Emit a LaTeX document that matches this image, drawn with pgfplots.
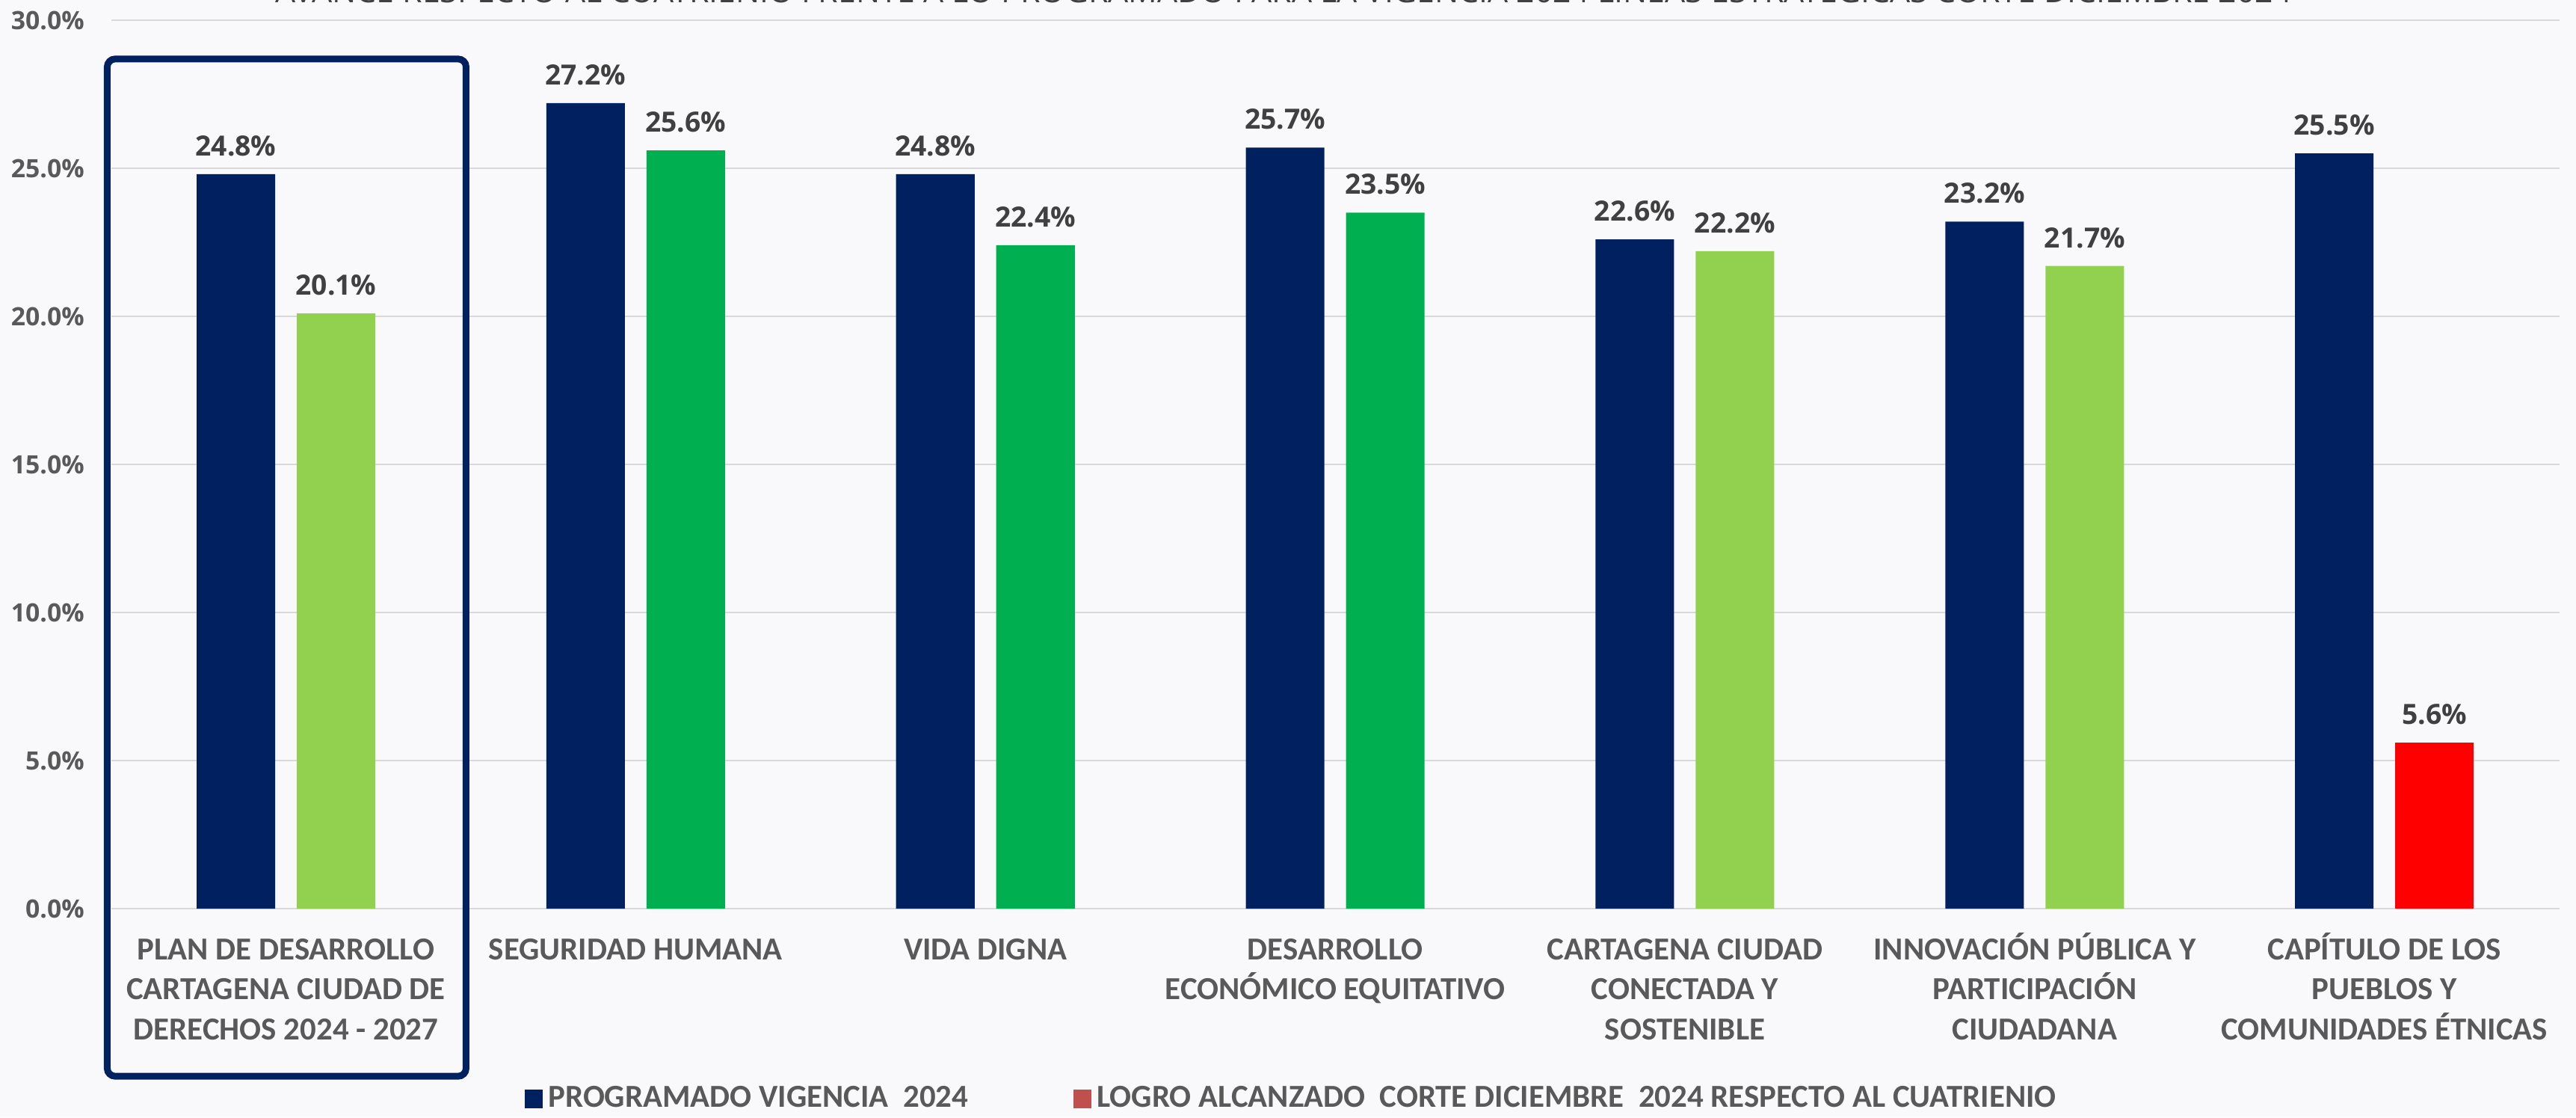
\documentclass[border=0pt]{standalone}
\usepackage{graphicx}
\usepackage{pgfplots}
\pgfplotsset{compat=1.18}
\usepackage{fontspec}
\setmainfont{Open Sans}
\newfontfamily\calibri{Carlito}

\definecolor{navy}{RGB}{0,32,96}
\definecolor{lightgreen}{RGB}{146,208,80}
\definecolor{midgreen}{RGB}{0,176,80}
\definecolor{brightred}{RGB}{255,0,0}
\definecolor{legendred}{RGB}{192,80,77}
\definecolor{gridgray}{RGB}{217,217,217}
\definecolor{textgray}{RGB}{89,89,89}
\definecolor{labelgray}{RGB}{64,64,64}
\definecolor{bgcol}{RGB}{249,249,252}

\pgfplotsset{/pgf/number format/assume math mode=true}

\begin{document}
\begin{tikzpicture}
\fill[bgcol] (0,0) rectangle (34.46,14.94);
\node[anchor=base, text=labelgray, inner sep=0pt] at (17.17,14.90)
  {\resizebox{26.97cm}{!}{\fontsize{12}{14}\selectfont AVANCE RESPECTO AL CUATRIENIO FRENTE A LO PROGRAMADO PARA LA VIGENCIA 2024 LÍNEAS ESTRATÉGICAS CORTE DICIEMBRE 2024}};

\begin{axis}[
  at={(1.486cm,2.79cm)}, anchor=south west,
  scale only axis,
  width=32.75cm, height=11.88cm,
  xmin=-0.5, xmax=6.5,
  ymin=0, ymax=30,
  clip=false,
  axis line style={draw=none},
  major tick length=0pt,
  tick style={draw=none},
  ymajorgrids,
  grid style={draw=gridgray, line width=0.6pt},
  ytick={0,5,10,15,20,25,30},
  yticklabel={\pgfmathprintnumber[fixed,fixed zerofill,precision=1]{\tick}\%},
  yticklabel style={anchor=east, inner sep=0pt, xshift=-10pt, text=textgray,
    font=\bfseries\fontsize{9.6}{11}\selectfont},
  xtick={0,1,2,3,4,5,6},
  xticklabels={
    {\rule{0pt}{10.5pt}PLAN DE DESARROLLO\\CARTAGENA CIUDAD DE\\DERECHOS 2024 - 2027},
    {\rule{0pt}{10.5pt}SEGURIDAD HUMANA},
    {\rule{0pt}{10.5pt}VIDA DIGNA},
    {\rule{0pt}{10.5pt}DESARROLLO\\ECONÓMICO EQUITATIVO},
    {\rule{0pt}{10.5pt}CARTAGENA CIUDAD\\CONECTADA Y\\SOSTENIBLE},
    {\rule{0pt}{10.5pt}INNOVACIÓN PÚBLICA Y\\PARTICIPACIÓN\\CIUDADANA},
    {\rule{0pt}{10.5pt}CAPÍTULO DE LOS\\PUEBLOS Y\\COMUNIDADES ÉTNICAS}},
  xticklabel style={anchor=north, align=center, inner sep=0pt, yshift=-8.8pt,
    text=textgray, font=\calibri\bfseries\fontsize{12.2}{15.2}\selectfont},
  every node near coord/.append style={anchor=base, yshift=7pt, inner sep=0pt,
    text=labelgray, font=\bfseries\fontsize{10.6}{12}\selectfont},
  legend columns=2,
  legend style={at={(0.1687,-0.2141)}, anchor=west, draw=none, fill=none,
    inner sep=0pt, text=textgray,
    font=\calibri\bfseries\fontsize{12.2}{14}\selectfont,
    /tikz/every even column/.append style={column sep=38pt}},
  legend cell align=left,
]

% programado vigencia 2024
\addplot[ybar, bar width=0.2245, bar shift=-0.1432, fill=navy, draw=none, forget plot,
  every node near coord/.append style={xshift=-0.67cm},
  nodes near coords={\pgfmathprintnumber[fixed,fixed zerofill,precision=1]{\pgfplotspointmeta}\%}]
  coordinates {(0,24.8) (1,27.2) (2,24.8) (3,25.7) (4,22.6) (5,23.2) (6,25.5)};

% logro alcanzado (colour by level)
\addplot[ybar, bar width=0.2245, bar shift=0.1432, fill=lightgreen, draw=none, forget plot,
  every node near coord/.append style={xshift=0.67cm},
  nodes near coords={\pgfmathprintnumber[fixed,fixed zerofill,precision=1]{\pgfplotspointmeta}\%}]
  coordinates {(0,20.1) (4,22.2) (5,21.7)};
\addplot[ybar, bar width=0.2245, bar shift=0.1432, fill=midgreen, draw=none, forget plot,
  every node near coord/.append style={xshift=0.67cm},
  nodes near coords={\pgfmathprintnumber[fixed,fixed zerofill,precision=1]{\pgfplotspointmeta}\%}]
  coordinates {(1,25.6) (2,22.4) (3,23.5)};
\addplot[ybar, bar width=0.2245, bar shift=0.1432, fill=brightred, draw=none, forget plot,
  every node near coord/.append style={xshift=0.67cm},
  nodes near coords={\pgfmathprintnumber[fixed,fixed zerofill,precision=1]{\pgfplotspointmeta}\%}]
  coordinates {(6,5.6)};

\addlegendimage{legend image code/.code={\fill[navy] (0pt,-3.3pt) rectangle (6.6pt,3.3pt);}}
\addlegendentry{PROGRAMADO VIGENCIA\ \ 2024}
\addlegendimage{legend image code/.code={\fill[legendred] (0pt,-3.3pt) rectangle (6.6pt,3.3pt);}}
\addlegendentry{LOGRO ALCANZADO\ \ CORTE DICIEMBRE\ \ 2024 RESPECTO AL CUATRIENIO}

% highlight box round the first category
\draw[navy, line width=0.09cm, rounded corners=3pt]
  (axis cs:-0.511,-5.66) rectangle (axis cs:0.515,28.69);
\end{axis}

\pgfresetboundingbox
\useasboundingbox (0,0) rectangle (34.46,14.94);
\end{tikzpicture}
\end{document}
